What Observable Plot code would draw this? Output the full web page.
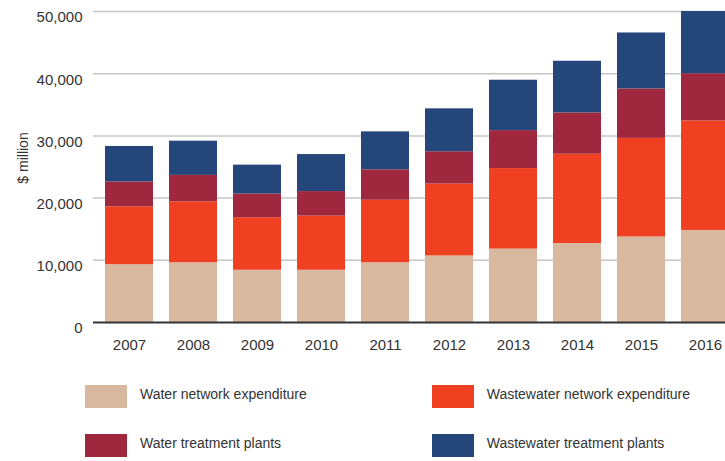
<!DOCTYPE html>
<html>
<head>
<meta charset="utf-8">
<script src="https://cdn.jsdelivr.net/npm/d3@7"></script>
<script src="https://cdn.jsdelivr.net/npm/@observablehq/plot@0.6"></script>
<style>
  html, body { margin: 0; padding: 0; overflow: hidden; background: #fff; }
  body { font-family: "Liberation Sans", Arial, sans-serif; color: #333; }
  #wrap { width: 725px; height: 461px; overflow: hidden; position: relative; }
  #chart { width: 725px; overflow: hidden; }
  #chart svg { overflow: hidden; max-width: none; }
  #legend {
    display: grid;
    grid-template-columns: 346.7px 300px;
    row-gap: 26px;
    padding-top: 15px;
    padding-left: 85px;
    font-size: 14px;
    color: #333;
  }
  .item { display: flex; align-items: center; height: 23px; }
  .sw { width: 42px; height: 23px; margin-right: 13px; flex: none; }
  .lab { position: relative; top: -3px; white-space: nowrap; }
</style>
</head>
<body>
<div id="wrap">
  <div id="chart"></div>
  <div id="legend"></div>
</div>
<script>
const years = ["2007","2008","2009","2010","2011","2012","2013","2014","2015","2016"];
const seriesNames = ["Water network expenditure","Wastewater network expenditure","Water treatment plants","Wastewater treatment plants"];
const seriesColors = ["#d9b8a0","#f04022","#a0283e","#25467a"];
const waterNetwork =        [9300, 9600, 8400, 8400, 9600, 10700, 11800, 12700, 13750, 14800];
const wastewaterNetwork =   [9300, 9800, 8450, 8700, 10050, 11550, 12950, 14350, 15850, 17600];
const waterTreatment =      [4000, 4250, 3800, 3950, 4900, 5200, 6100, 6650, 7950, 7600];
const wastewaterTreatment = [5700, 5500, 4650, 5950, 6100, 6900, 8100, 8300, 9000, 10000];
const yTicks = [0, 10000, 20000, 30000, 40000, 50000];
const yTitle = "$ million";

const seriesValues = [waterNetwork, wastewaterNetwork, waterTreatment, wastewaterTreatment];
const data = [];
seriesNames.forEach((s, i) => {
  years.forEach((y, j) => data.push({year: y, series: s, value: seriesValues[i][j]}));
});

const plot = Plot.plot({
  width: 740,
  height: 370,
  marginLeft: 93,
  marginRight: 0,
  marginTop: 11,
  marginBottom: 48,
  style: {fontFamily: "'Liberation Sans', Arial, sans-serif", fontSize: "15px", color: "#333", background: "#fff"},
  x: {domain: years, paddingInner: 0.256, paddingOuter: 0.14, align: 0.5},
  y: {domain: [0, 50000]},
  color: {domain: seriesNames, range: seriesColors},
  marks: [
    Plot.ruleY(yTicks.filter(d => d > 0), {stroke: "#c6c6c6", strokeWidth: 1.5}),
    Plot.barY(data, {x: "year", y: "value", fill: "series", order: seriesNames}),
    Plot.ruleY([0], {stroke: "#333", strokeWidth: 2}),
    Plot.axisX({tickSize: 0, tickPadding: 17, fontSize: 15, label: null}),
    Plot.axisY({ticks: yTicks, tickFormat: d3.format(","), tickSize: 0, tickPadding: 11, dy: 6, fontSize: 15, label: null}),
    Plot.text([yTitle], {frameAnchor: "left", textAnchor: "middle", rotate: -90, dx: -70, dy: -9, fontSize: 14, fill: "#333"})
  ]
});
document.getElementById("chart").appendChild(plot);

const legend = document.getElementById("legend");
seriesNames.forEach((s, i) => {
  const it = document.createElement("div");
  it.className = "item";
  const sw = document.createElement("div");
  sw.className = "sw";
  sw.style.background = seriesColors[i];
  const lab = document.createElement("span");
  lab.className = "lab";
  lab.textContent = s;
  it.appendChild(sw);
  it.appendChild(lab);
  legend.appendChild(it);
});
</script>
</body>
</html>
